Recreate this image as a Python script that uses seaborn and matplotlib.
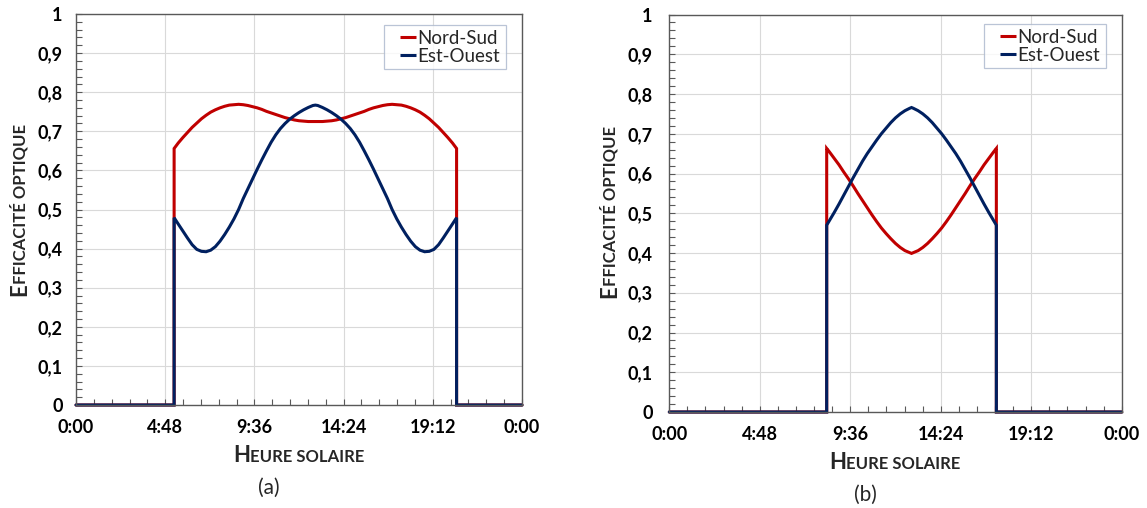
import matplotlib
matplotlib.use("Agg")
import matplotlib.pyplot as plt
import matplotlib.transforms as mtransforms
from matplotlib.lines import Line2D
from matplotlib.legend_handler import HandlerBase
from matplotlib.ticker import MultipleLocator
import seaborn as sns
import pandas as pd

# ---------------- data ----------------
# (a) time of day in hours
time_a = [0, 5.28, 5.28, 5.5, 5.75, 6.0, 6.25, 6.5, 6.75, 7.0, 7.25, 7.5, 7.75, 8.0,
          8.25, 8.5, 8.75, 9.0, 9.25, 9.5, 9.75, 10.0, 10.25, 10.5, 10.75, 11.0,
          11.25, 11.5, 11.75, 12.0, 12.25, 12.5, 12.75, 12.88, 13.01, 13.26, 13.51,
          13.76, 14.01, 14.26, 14.51, 14.76, 15.01, 15.26, 15.51, 15.76, 16.01,
          16.26, 16.51, 16.76, 17.01, 17.26, 17.51, 17.76, 18.01, 18.26, 18.51,
          18.76, 19.01, 19.26, 19.51, 19.76, 20.01, 20.26, 20.48, 20.48, 24]
nord_sud_a = [0, 0, 0.656, 0.670, 0.684, 0.697, 0.710, 0.721, 0.732, 0.741, 0.749,
              0.755, 0.760, 0.764, 0.767, 0.768, 0.769, 0.768, 0.766, 0.763, 0.760,
              0.756, 0.751, 0.747, 0.743, 0.739, 0.735, 0.732, 0.729, 0.727, 0.726,
              0.725, 0.725, 0.725, 0.725, 0.725, 0.726, 0.727, 0.729, 0.732, 0.735,
              0.739, 0.743, 0.747, 0.751, 0.756, 0.760, 0.763, 0.766, 0.768, 0.769,
              0.768, 0.767, 0.764, 0.760, 0.755, 0.749, 0.741, 0.732, 0.721, 0.710,
              0.697, 0.684, 0.670, 0.656, 0, 0]
est_ouest_a = [0, 0, 0.479, 0.463, 0.445, 0.427, 0.410, 0.398, 0.393, 0.392, 0.396,
               0.405, 0.419, 0.436, 0.455, 0.476, 0.500, 0.528, 0.553, 0.578, 0.603,
               0.627, 0.650, 0.672, 0.691, 0.707, 0.720, 0.731, 0.740, 0.748, 0.755,
               0.761, 0.766, 0.767, 0.766, 0.761, 0.755, 0.748, 0.740, 0.731, 0.720,
               0.707, 0.691, 0.672, 0.650, 0.627, 0.603, 0.578, 0.553, 0.528, 0.500,
               0.476, 0.455, 0.436, 0.419, 0.405, 0.396, 0.392, 0.393, 0.398, 0.410,
               0.427, 0.445, 0.463, 0.479, 0, 0]

# (b)
time_b = [0, 8.35, 8.35, 8.5, 8.75, 9.0, 9.25, 9.5, 9.75, 10.0, 10.25, 10.5, 10.75,
          11.0, 11.25, 11.5, 11.75, 12.0, 12.25, 12.5, 12.75, 12.85, 12.95, 13.2,
          13.45, 13.7, 13.95, 14.2, 14.45, 14.7, 14.95, 15.2, 15.45, 15.7, 15.95,
          16.2, 16.45, 16.7, 16.95, 17.2, 17.35, 17.35, 24]
nord_sud_b = [0, 0, 0.663, 0.654, 0.638, 0.622, 0.604, 0.587, 0.569, 0.550, 0.532,
              0.514, 0.496, 0.479, 0.463, 0.449, 0.436, 0.424, 0.414, 0.406, 0.401,
              0.399, 0.401, 0.406, 0.414, 0.424, 0.436, 0.449, 0.463, 0.479, 0.496,
              0.514, 0.532, 0.550, 0.569, 0.587, 0.604, 0.622, 0.638, 0.654, 0.663,
              0, 0]
est_ouest_b = [0, 0, 0.470, 0.482, 0.502, 0.523, 0.545, 0.567, 0.589, 0.610, 0.631,
               0.650, 0.667, 0.684, 0.700, 0.714, 0.728, 0.740, 0.750, 0.758, 0.764,
               0.766, 0.764, 0.758, 0.750, 0.740, 0.728, 0.714, 0.700, 0.684, 0.667,
               0.650, 0.631, 0.610, 0.589, 0.567, 0.545, 0.523, 0.502, 0.482, 0.470,
               0, 0]

series_names = ["Nord-Sud", "Est-Ouest"]
x_tick_values = [0, 4.8, 9.6, 14.4, 19.2, 24]
x_tick_labels = ["0:00", "4:48", "9:36", "14:24", "19:12", "0:00"]
y_tick_values = [0, 0.1, 0.2, 0.3, 0.4, 0.5, 0.6, 0.7, 0.8, 0.9, 1.0]
y_tick_labels = ["0", "0,1", "0,2", "0,3", "0,4", "0,5", "0,6", "0,7", "0,8", "0,9", "1"]

RED = "#C00000"
NAVY = "#002060"

sns.set_theme(style="white")
plt.rcParams["font.family"] = ["Lato", "DejaVu Sans"]

W, H = 1147, 508
fig = plt.figure(figsize=(W / 100, H / 100), dpi=100)
axA = fig.add_axes([76 / W, 1 - 405 / H, 446 / W, 391 / H])
axB = fig.add_axes([669.3 / W, 1 - 412 / H, 452.4 / W, 397.5 / H])


class ShortLine(HandlerBase):
    def create_artists(self, legend, orig_handle, xdescent, ydescent, width,
                       height, fontsize, trans):
        y = height / 2 - ydescent
        ln = Line2D([width * 0.42 - xdescent, width - xdescent], [y, y],
                    color=orig_handle.get_color(), lw=orig_handle.get_linewidth(),
                    solid_capstyle="butt")
        ln.set_transform(trans)
        return [ln]


def draw(ax, t, ns, eo, ypad, leg_box):
    df = pd.DataFrame({
        "t": list(t) * 2,
        "v": list(ns) + list(eo),
        "s": [series_names[0]] * len(t) + [series_names[1]] * len(t),
    })
    sns.lineplot(data=df, x="t", y="v", hue="s", hue_order=series_names,
                 palette=[RED, NAVY], estimator=None, sort=False, lw=2.2,
                 ax=ax, legend=False)
    for ln in ax.lines:
        ln.set_clip_on(False)
        ln.set_solid_joinstyle("miter")
    ax.set_xlim(0, 24)
    ax.set_ylim(0, 1)
    ax.set_xticks(x_tick_values)
    ax.set_xticklabels(x_tick_labels)
    ax.xaxis.set_minor_locator(MultipleLocator(0.96))
    ax.set_yticks(y_tick_values)
    ax.set_yticklabels(y_tick_labels)
    ax.yaxis.set_minor_locator(MultipleLocator(0.02))
    ax.tick_params(which="both", direction="in", color="#595959", width=0.8,
                   length=4, bottom=True, left=True, top=False, right=False)
    ax.tick_params(axis="x", pad=10, labelsize=13)
    ax.tick_params(axis="y", pad=ypad, labelsize=13)
    for lab in ax.get_xticklabels() + ax.get_yticklabels():
        lab.set_fontweight("bold")
        lab.set_color("black")
    ax.grid(which="major", color="#d9d9d9", lw=0.8)
    ax.set_axisbelow(True)
    for sp in ax.spines.values():
        sp.set_visible(True)
        sp.set_color("#595959")
        sp.set_linewidth(1.0)
    ax.set_xlabel("")
    ax.set_ylabel("")
    handles = [Line2D([], [], color=RED, lw=2.2), Line2D([], [], color=NAVY, lw=2.2)]
    leg = ax.legend(handles, series_names, loc="upper left", bbox_to_anchor=leg_box,
                    mode="expand", borderaxespad=0, frameon=True, fancybox=False,
                    edgecolor="#a9b6cc", handlelength=1.45, handletextpad=0.05,
                    labelspacing=0.05, borderpad=0.25, prop={"size": 13.5},
                    handler_map={Line2D: ShortLine()})
    leg.get_frame().set_linewidth(0.9)


draw(axA, time_a, nord_sud_a, est_ouest_a, 9.5, (0.6906, 0.5, 0.2735, 0.472))
draw(axB, time_b, nord_sud_b, est_ouest_b, 12, (0.6956, 0.5, 0.2697, 0.476))

renderer = fig.canvas.get_renderer()
ident = mtransforms.IdentityTransform()


def smallcaps_h(first, rest, cx, baseline_img, big=16, small=12):
    y = H - baseline_img
    t1 = fig.text(0, y, first, fontsize=big, fontweight="bold", ha="left",
                  va="baseline", transform=ident)
    t2 = fig.text(0, y, rest, fontsize=small, fontweight="bold", ha="left",
                  va="baseline", transform=ident)
    w1 = t1.get_window_extent(renderer).width
    w2 = t2.get_window_extent(renderer).width
    x0 = cx - (w1 + w2) / 2
    t1.set_position((x0, y))
    t2.set_position((x0 + w1, y))


def smallcaps_v(first, rest, baseline_x, cy_img, big=16, small=12):
    cy = H - cy_img
    kw = dict(fontweight="bold", ha="left", va="baseline", rotation=90,
              rotation_mode="anchor", transform=ident)
    t1 = fig.text(baseline_x, 0, first, fontsize=big, **kw)
    t2 = fig.text(baseline_x, 0, rest, fontsize=small, **kw)
    h1 = t1.get_window_extent(renderer).height
    h2 = t2.get_window_extent(renderer).height
    y0 = cy - (h1 + h2) / 2
    t1.set_position((baseline_x, y0))
    t2.set_position((baseline_x, y0 + h1))


smallcaps_h("H", "EURE SOLAIRE", 299, 461.7)
smallcaps_h("H", "EURE SOLAIRE", 895, 469.3)
smallcaps_v("E", "FFICACITÉ OPTIQUE", 26, 210)
smallcaps_v("E", "FFICACITÉ OPTIQUE", 616, 212)

fig.text(269 / W, 1 - 488 / H, "(a)", ha="center", va="center", fontsize=15)
fig.text(865 / W, 1 - 495 / H, "(b)", ha="center", va="center", fontsize=15)

fig.savefig("out.png", dpi=100)
